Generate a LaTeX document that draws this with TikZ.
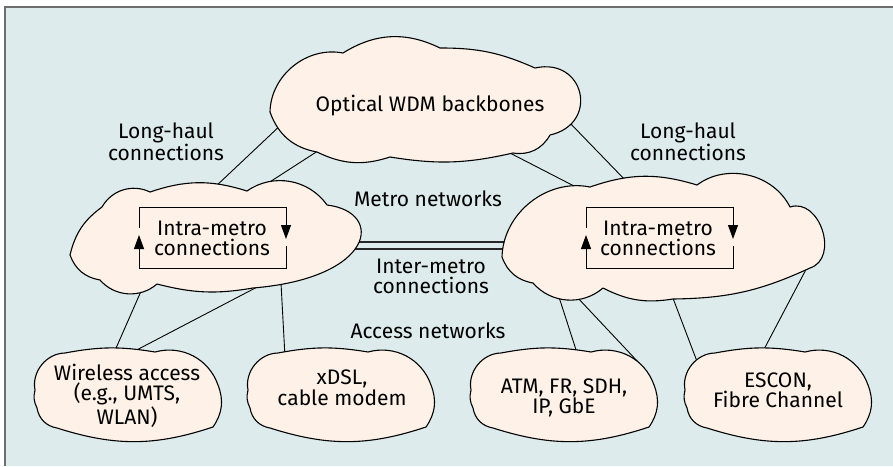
\documentclass[tikz,border=0pt]{standalone}
\usepackage{fontspec}
\setmainfont{Fira Sans}
\usetikzlibrary{arrows.meta}
\definecolor{panelbg}{RGB}{221,235,236}
\definecolor{cloudfill}{RGB}{253,241,232}
\definecolor{framegray}{RGB}{110,110,110}
\begin{document}
\begin{tikzpicture}[x=1pt,y=-1pt,
  cloudline/.style={draw=black, fill=cloudfill, line width=1.1pt, line join=round},
  link/.style={draw=black, line width=0.9pt},
  trunk/.style={draw=black!85, line width=1.2pt},
  lbl/.style={inner sep=0pt, anchor=base, align=center, font=\fontsize{21}{20.5}\selectfont},
  loopbox/.style={draw=black, line width=1pt},
  tip/.style={-{Triangle[width=10pt,length=14pt]}},
  bl/.style={bend left=#1},
]
\useasboundingbox (0,0) rectangle (893,466);
% panel
\fill[white] (0,0) rectangle (893,466);
\fill[panelbg] (5,7) rectangle (893,466);
\draw[framegray, line width=2pt] (5,466) -- (5,7) -- (893,7);

% connector end points
\coordinate (c1a) at (284,122);  \coordinate (c1b) at (214,188);
\coordinate (c2a) at (324,147);  \coordinate (c2b) at (262,187);
\coordinate (c3a) at (506,151);  \coordinate (c3b) at (574,186);
\coordinate (c4a) at (568,121);  \coordinate (c4b) at (628,183);
\coordinate (c5a) at (142,289);  \coordinate (c5b) at (113,355);
\coordinate (c6a) at (261,285);  \coordinate (c6b) at (129,354);
\coordinate (c7a) at (281,283);  \coordinate (c7b) at (285,357);
\coordinate (c8a) at (558,294);  \coordinate (c8b) at (578,356);
\coordinate (c9a) at (576,296);  \coordinate (c9b) at (639,363);
\coordinate (c10a) at (671,293); \coordinate (c10b) at (698,364);
\coordinate (c11a) at (811,260); \coordinate (c11b) at (761,355);
\coordinate (t1a) at (355,242);  \coordinate (t1b) at (510,242);
\coordinate (t2a) at (355,249);  \coordinate (t2b) at (510,249);

% links (drawn first, clouds cover their ends)
\foreach \n in {c1,c2,c3,c4,c5,c6,c7,c8,c9,c10,c11}
  \draw[link] (\n a) -- (\n b);
\draw[trunk] (t1a) -- (t1b);
\draw[trunk] (t2a) -- (t2b);

% backbone cloud
\draw[cloudline] (270,112) to[bl=50] (343,53) to[bl=29] (440,48) to[bl=12] (535,68)
  to[bend left=90,looseness=1.9] (550,135) to[bl=35] (513,153) to[bl=11] (390,157)
  to[bl=22] (317,152) to[bl=30] (270,112) -- cycle;

% metro clouds
\draw[cloudline] (70,255) to[bl=20] (102,207) to[bl=43] (150,192) to[bl=18] (247,191)
  to[bl=45] (327,205) .. controls (385,212) and (375,278) .. (253,288)
  to[bl=12] (157,284) to[bl=45] (100,280) to[bl=30] (70,255) -- cycle;
\draw[cloudline] (502,257) to[bl=50] (590,187) to[bl=18] (697,185) to[bl=50] (790,207)
  to[bend left=90,looseness=1.25] (810,268) to[bl=12] (673,299) to[bl=18] (603,288)
  to[bl=45] (533,283) to[bl=30] (502,257) -- cycle;

% access clouds
\foreach \xo in {35,248,471,685}{
  \begin{scope}[shift={(\xo,350)}]
    \draw[cloudline] (0,40) to[bl=50] (30,3) to[bl=10] (120,2) to[bl=43] (183,35)
      to[bl=28] (178,77) to[bl=18] (22,78) to[bl=35] (2,58) to[bl=20] (0,40) -- cycle;
  \end{scope}
}

% intra-metro loops
\draw[loopbox, tip] (139,228) -- (139,207) -- (286,207) -- (286,239);
\draw[loopbox, tip] (286,246) -- (286,268) -- (139,268) -- (139,235);
\draw[loopbox, tip] (586,228) -- (586,207) -- (733,207) -- (733,239);
\draw[loopbox, tip] (733,246) -- (733,268) -- (586,268) -- (586,235);

% labels (base anchor = baseline of the last line)
\node[lbl] (wdm) at (430,111) {Optical WDM backbones};
\node[lbl] (lhL) at (166,160) {Long-haul\\connections};
\node[lbl] (lhR) at (688,160) {Long-haul\\connections};
\node[lbl] (metro) at (428,206) {Metro networks};
\node[lbl] (inter) at (431,293.5) {Inter-metro\\connections};
\node[lbl] (access) at (428,338) {Access networks};
\node[lbl] (intraL) at (212,255.5) {Intra-metro\\connections};
\node[lbl] (intraR) at (658,255.5) {Intra-metro\\connections};
\node[lbl] (wless) at (127,424) {Wireless access\\(e.g., UMTS,\\WLAN)};
\node[lbl] (xdsl) at (342,405) {xDSL,\\cable modem};
\node[lbl] (atm) at (564,413.5) {ATM, FR, SDH,\\IP, GbE};
\node[lbl] (escon) at (778,407.5) {ESCON,\\Fibre Channel};
\end{tikzpicture}
\end{document}
